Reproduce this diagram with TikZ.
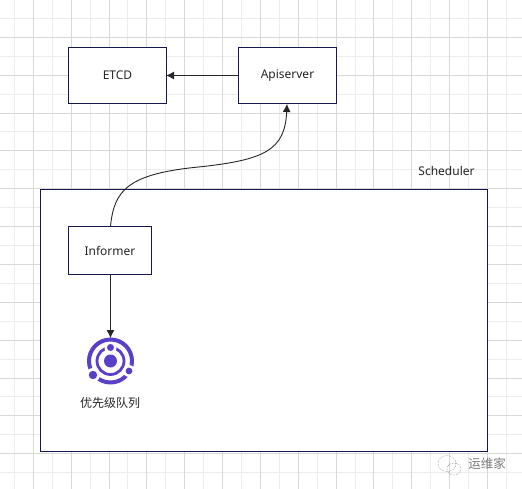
\documentclass[tikz,border=0pt]{standalone}
\usepackage{fontspec}
\setmainfont{Noto Sans}
\newfontfamily\cjk{Noto Sans CJK SC}
\definecolor{navy}{HTML}{14184F}
\definecolor{violet}{HTML}{5A3FC8}
\definecolor{gridmaj}{HTML}{D8D8D8}
\definecolor{gridmin}{HTML}{ECECEC}
\definecolor{wm}{HTML}{7A7A7A}
\usetikzlibrary{arrows.meta}
\tikzset{
  box/.style={draw=navy,fill=white,line width=1.1pt,inner sep=0pt,font=\fontsize{12}{14}\selectfont,text=black!85},
  label/.style={inner sep=0pt,font=\fontsize{12}{14}\selectfont,text=black!85},
  conn/.style={draw=black!85,line width=0.9pt,shorten >=-1pt,-{Latex[length=8pt,width=8pt]}},
}
\begin{document}
\begin{tikzpicture}[x=1pt,y=-1pt]
\useasboundingbox (0,0) rectangle (522,489);
\fill[white] (0,0) rectangle (522,489);
% minor grid
\foreach \k in {0,...,13}{
  \draw[gridmin,line width=1pt] ({14.4+37.85*\k},0) -- ({14.4+37.85*\k},489);
  \draw[gridmin,line width=1pt] (0,{18.4+37.85*\k}) -- (522,{18.4+37.85*\k});
}
% major grid
\foreach \k in {0,...,13}{
  \draw[gridmaj,line width=1pt] ({33.3+37.85*\k},0) -- ({33.3+37.85*\k},489);
  \draw[gridmaj,line width=1pt] (0,{-0.5+37.85*\k}) -- (522,{-0.5+37.85*\k});
}
% boxes
\node[box,minimum width=447pt,minimum height=261.5pt] (sched) at (264,320.5) {};
\node[box,minimum width=98pt,minimum height=56.5pt] (etcd) at (117.5,75.5) {\raisebox{-1pt}{ETCD}};
\node[box,minimum width=98pt,minimum height=56.5pt] (api) at (287.5,75.5) {\raisebox{-1pt}{Apiserver}};
\node[box,minimum width=83pt,minimum height=47.5pt] (inf) at (110,250.5) {\raisebox{-1pt}{Informer}};
\node[label] (schedlabel) at (446.5,171.5) {Scheduler};
\coordinate (icontop) at (110.5,338);
\coordinate (curvestart) at (110.5,226.5);
\coordinate (curveend) at (287,104);
\coordinate (infbottom) at (110.5,274);
% connectors
\draw[conn] (api.west) -- (etcd.east);
\draw[conn,shorten >=0pt] (infbottom) -- (icontop);
\draw[conn,shorten >=0pt] (curvestart) .. controls (114,190) and (128,174) .. (198.5,167) .. controls (265,160) and (285,150) .. (curveend);
% icon
\begin{scope}[violet]
  \draw[line width=4pt] (110.5,361) circle (21.5);
  \draw[line width=2.8pt] (110.5,361) circle (13.5);
  \fill (110.5,361) circle (6.5);
  \fill[white] (110.5,348) circle (6);
  \fill[white] (93,375) circle (7);
  \fill[white] (129,371) circle (6);
  \fill (110.5,347.5) circle (3.5);
  \fill (93,375) circle (4.2);
  \fill (129,371) circle (3.4);
\end{scope}
\node[label,font=\cjk\fontsize{12}{14}\selectfont] (queue) at (110,402.5) {优先级队列};
% watermark
\begin{scope}[wm,line width=0.5pt,densely dotted]
  \draw (447,463.5) ellipse (9 and 8);
  \draw (454,469) ellipse (7 and 6);
\end{scope}
\node[inner sep=0pt,text=wm,font=\cjk\fontsize{12.5}{14}\selectfont] (mark) at (487,464) {运维家};
\end{tikzpicture}
\end{document}
